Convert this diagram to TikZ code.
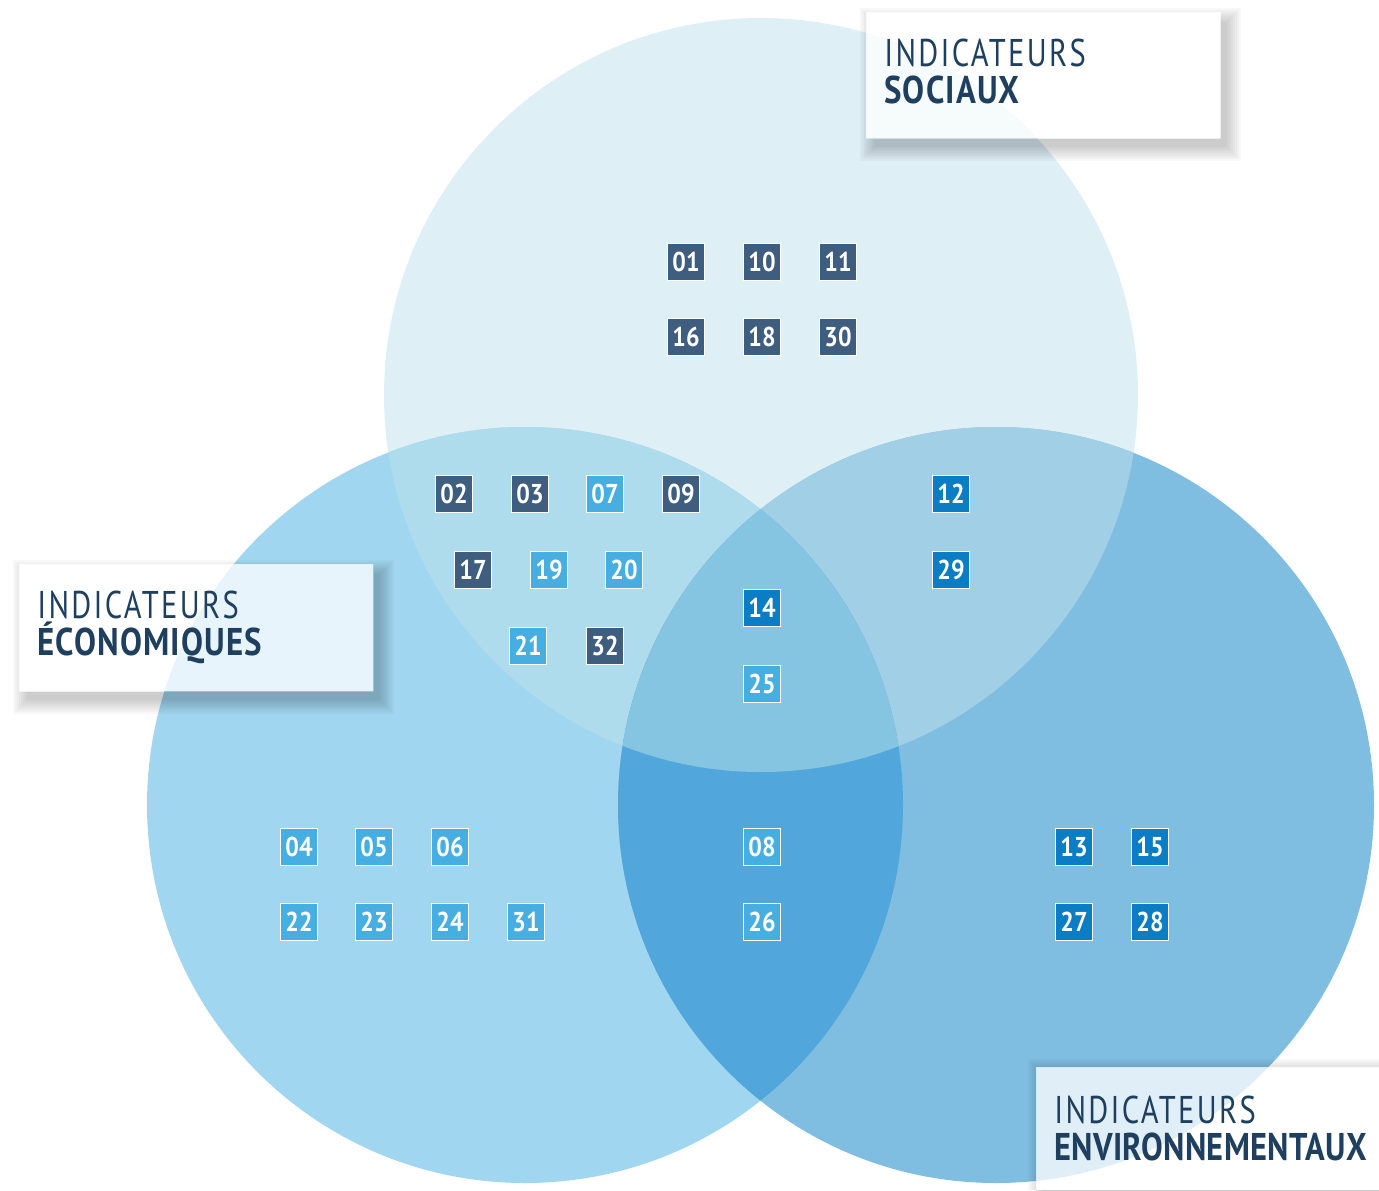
\documentclass[tikz,border=0pt]{standalone}
\usepackage{fontspec}
\setmainfont{PT Sans}[FakeStretch=0.8]
\newfontfamily\capfont{PT Sans}[FakeStretch=0.79,LetterSpace=6]
\newfontfamily\headfont{PT Sans}[FakeStretch=0.85,LetterSpace=3]
\newfontfamily\envfont{PT Sans}[FakeStretch=0.84,LetterSpace=0.8]
\newfontfamily\numfont{PT Sans}[FakeStretch=0.88]
\definecolor{csoc}{HTML}{DEF0F6}
\definecolor{ceco}{HTML}{A1D6F0}
\definecolor{cenv}{HTML}{80BEE1}
\definecolor{csoceco}{HTML}{AEDCEC}
\definecolor{csocenv}{HTML}{A0CFE6}
\definecolor{cecoenv}{HTML}{51A7DC}
\definecolor{call}{HTML}{85C5E2}
\definecolor{navy}{HTML}{3F5D7E}
\definecolor{sky}{HTML}{47AEE2}
\definecolor{ocean}{HTML}{0A7DC5}
\definecolor{ink}{HTML}{1F3F5E}
\newcommand{\lowpad}{\rule[-0.18cm]{0pt}{0pt}}
\tikzset{
  num/.style={draw=white,line width=1pt,minimum size=0.74cm,inner sep=0pt,text=white,font=\numfont\bfseries\fontsize{15.5}{15}\selectfont},
  numnavy/.style={num,fill=navy},
  numsky/.style={num,fill=sky},
  numocean/.style={num,fill=ocean},
  tagbox/.style={fill=white,fill opacity=0.75,text opacity=1,anchor=north west,inner xsep=0.36cm,text width=6.36cm,align=left,text=ink,
    font=\fontsize{22}{21}\selectfont},
  tagshadow/.style={fill=black,fill opacity=0.028}
}
\begin{document}
\begin{tikzpicture}[x=0.02cm,y=-0.02cm]
\useasboundingbox (0,0) rectangle (1379,1190);
\path
(761,395) coordinate (S)
(525,805) coordinate (E)
(996,805) coordinate (V);
% circles
\fill[csoc](S)circle[radius=377];
\fill[ceco](E)circle[radius=378];
\fill[cenv](V)circle[radius=378];
\begin{scope}
\clip(S)circle[radius=377];
\fill[csoceco](E)circle[radius=378];
\fill[csocenv](V)circle[radius=378];
\end{scope}
\begin{scope}
\clip(E)circle[radius=378];
\fill[cecoenv](V)circle[radius=378];
\clip(S)circle[radius=377];
\fill[call](V)circle[radius=378];
\end{scope}
% social only
\node[numnavy](n01)at(686,262){01};
\node[numnavy](n10)at(762,262){10};
\node[numnavy](n11)at(838,262){11};
\node[numnavy](n16)at(686,337){16};
\node[numnavy](n18)at(762,337){18};
\node[numnavy](n30)at(838,337){30};
% social and economic
\node[numnavy](n02)at(454,494){02};
\node[numnavy](n03)at(530,494){03};
\node[numsky](n07)at(605,494){07};
\node[numnavy](n09)at(681,494){09};
\node[numnavy](n17)at(473,570){17};
\node[numsky](n19)at(549,570){19};
\node[numsky](n20)at(624,570){20};
\node[numsky](n21)at(528,646){21};
\node[numnavy](n32)at(605,646){32};
% all three
\node[numocean](n14)at(762,608){14};
\node[numsky](n25)at(762,684){25};
% social and environmental
\node[numocean](n12)at(951,494){12};
\node[numocean](n29)at(951,570){29};
% economic and environmental
\node[numsky](n08)at(762,847){08};
\node[numsky](n26)at(762,922){26};
% economic only
\node[numsky](n04)at(299,847){04};
\node[numsky](n05)at(374,847){05};
\node[numsky](n06)at(450,847){06};
\node[numsky](n22)at(299,922){22};
\node[numsky](n23)at(374,922){23};
\node[numsky](n24)at(450,922){24};
\node[numsky](n31)at(526,922){31};
% environmental only
\node[numocean](n13)at(1074,847){13};
\node[numocean](n15)at(1150,847){15};
\node[numocean](n27)at(1074,922){27};
\node[numocean](n28)at(1150,922){28};
% titles
\node[tagbox,minimum height=2.52cm](tsoc)at(866,12){{\capfont INDICATEURS}\\{\headfont\bfseries SOCIAUX}\lowpad};
\node[tagbox,minimum height=2.54cm](teco)at(19,564){{\capfont INDICATEURS}\\{\headfont\bfseries ÉCONOMIQUES}\lowpad};
\node[tagbox,minimum height=2.6cm](tenv)at(1036,1067){{\capfont INDICATEURS}\\{\envfont\bfseries ENVIRONNEMENTAUX}\lowpad};
% shadows, kept outside the boxes
\begin{scope}[even odd rule]
\clip(0,0)rectangle(1379,1190)
  (tsoc.north east)rectangle(tsoc.south west)
  (teco.north east)rectangle(teco.south west)
  (tenv.north east)rectangle(tenv.south west);
\foreach \d in {0,2,...,14}{
  \path[tagshadow]([shift={(8-\d,10-\d)}]tsoc.north west)rectangle([shift={(6+\d,8+\d)}]tsoc.south east);
  \path[tagshadow]([shift={(8-\d,10-\d)}]teco.north west)rectangle([shift={(6+\d,8+\d)}]teco.south east);
  \path[tagshadow]([shift={(6-\d,6-\d)}]tenv.north west)rectangle([shift={(6+\d,8+\d)}]tenv.south east);
}
\end{scope}
\end{tikzpicture}
\end{document}
